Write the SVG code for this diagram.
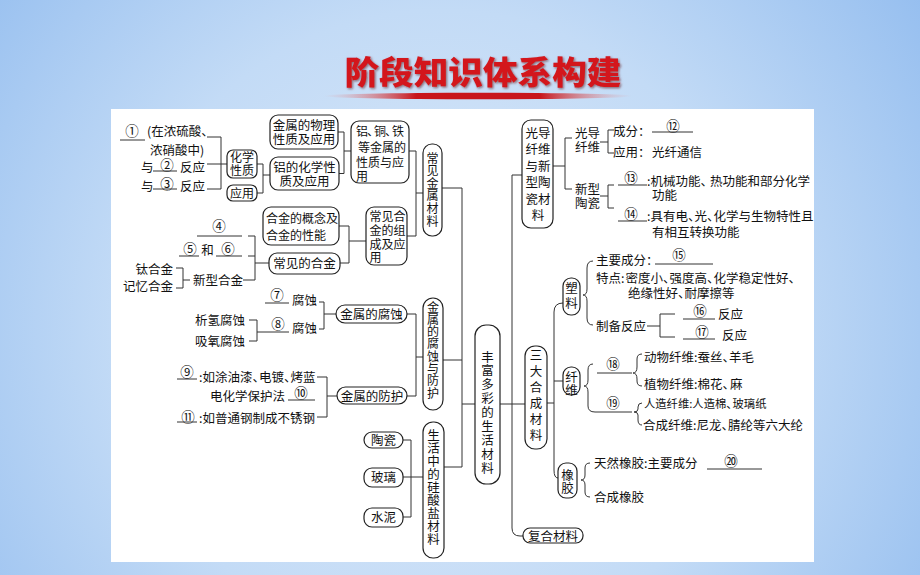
<svg xmlns="http://www.w3.org/2000/svg" width="920" height="575" viewBox="0 0 920 575">
<defs>
<radialGradient id="bg" gradientUnits="userSpaceOnUse" cx="440" cy="330" r="640">
<stop offset="0" stop-color="#dce9f9"/>
<stop offset="0.5" stop-color="#c3dbf6"/>
<stop offset="1" stop-color="#8db9ee"/>
</radialGradient>
<linearGradient id="sw" x1="0" y1="0" x2="1" y2="0">
<stop offset="0" stop-color="#e8a0a0" stop-opacity="0"/>
<stop offset="0.3" stop-color="#c8161c"/>
<stop offset="0.7" stop-color="#c8161c"/>
<stop offset="1" stop-color="#e8a0a0" stop-opacity="0"/>
</linearGradient>
<filter id="sh" x="-5%" y="-20%" width="110%" height="140%">
<feDropShadow dx="1.2" dy="1.2" stdDeviation="0.8" flood-color="#5a0a0a" flood-opacity="0.6"/>
</filter>
</defs>
<style>
.box{fill:#fff;stroke:#222;stroke-width:1.2}
.ln{fill:none;stroke:#333;stroke-width:1}
.t{font-family:"Noto Sans CJK SC","Noto Sans CJK JP",sans-serif;font-size:12.5px;fill:#111}
.s{font-size:12px}
.m{text-anchor:middle}
.e{text-anchor:end}
.n{font-family:"Noto Sans CJK SC","Noto Sans CJK JP",sans-serif;font-size:13.5px;fill:#111;text-anchor:middle}
.title{font-family:"Noto Sans CJK SC","Noto Sans CJK JP",sans-serif;font-size:32px;font-weight:900;fill:#d3161c;text-anchor:middle}
</style>
<rect width="920" height="575" fill="url(#bg)"/>
<g id="title">
<ellipse cx="478" cy="96" rx="155" ry="3.2" fill="url(#sw)"/>
<text class="title" x="483" y="84" textLength="277" lengthAdjust="spacingAndGlyphs" filter="url(#sh)">阶段知识体系构建</text>
</g>
<rect x="111" y="109" width="703" height="453" fill="#fff"/>

<g id="connectors">
<path class="ln" d="M207,137H221V189H207M207,164H228"/>
<path class="ln" d="M257,164H263V193H257M263,175H270"/>
<path class="ln" d="M338,132H344V173.5H339M344,151H351"/>
<path class="ln" d="M409,151H416V236H407M416,193H423"/>
<path class="ln" d="M339,226H349V263H340M349,241H366"/>
<path class="ln" d="M248,236H255V280H243M248,256H255M255,263H269"/>
<path class="ln" d="M176,268H183V288H176M183,280H190"/>
<path class="ln" d="M319,302H324V329H319M324,314H336"/>
<path class="ln" d="M249,320H257V341H249M257,332H265"/>
<path class="ln" d="M317,377H327V417H317M327,396H337"/>
<path class="ln" d="M407,314H416V396H407M416,357H423"/>
<path class="ln" d="M403,440H411V517H403M403,477H423"/>
<path class="ln" d="M442,188H462V467H444M443,360H462M462,404H475"/>
<path class="ln" d="M500,404H525M522,175H512V528Q512,536 520,536H523"/>
<path class="ln" d="M553,166H565M572,138H565V189H572"/>
<path class="ln" d="M600,142H608M614,130H608V153H614"/>
<path class="ln" d="M600,196H608M614,185H608V208H614"/>
<path class="ln" d="M547,403H554M563,303Q554,303 554,312V470Q554,478 558,478M554,381H563"/>
<path class="ln" d="M593,261Q587,261 587,268V289Q587,295 583,295Q587,295 587,301V318Q587,325 593,325"/>
<path class="ln" d="M647,326H660M675,314H660V337H675"/>
<path class="ln" d="M593,364Q588,364 588,370V380Q588,386 584,386Q588,386 588,392V406Q588,412 595,412"/>
<path class="ln" d="M642,354Q637,354 637,359V367Q637,373 633,373Q637,373 637,379V381Q637,386 642,386"/>
<path class="ln" d="M642,403Q638,403 638,407V409Q638,412 634,412Q638,412 638,415V420Q638,425 642,425"/>
<path class="ln" d="M590,463Q585,463 585,468V475Q585,480 581,480Q585,480 585,485V492Q585,497 590,497"/>
<path class="ln" d="M120,140H145M153,171H177M153,189H177M197,236H242M179,256H199M216,256H242"/>
<path class="ln" d="M265,303H289M265,332H289M177,379H197M288,400H315M177,422H197"/>
<path class="ln" d="M652,132H693M618,185H647M618,221H647M655,264H713M683,319H715M683,339H715M597,373H632M595,412H632M707,469H762"/>
</g>

<g id="n-left1">
<text class="n" x="132" y="135.5">①</text>
<text class="t" x="147" y="135.5">(在浓硫酸、</text>
<text class="t" x="150" y="154.5">浓硝酸中)</text>
<text class="t" x="141" y="171.5">与</text>
<text class="n" x="167" y="169.5">②</text>
<text class="t" x="180" y="171.5">反应</text>
<text class="t" x="141" y="190.5">与</text>
<text class="n" x="167" y="188.5">③</text>
<text class="t" x="180" y="190.5">反应</text>
</g>
<g id="n-huaxuexingzhi"><rect class="box" x="227" y="150" width="30" height="28" rx="6"/>
<text class="t s m" x="242" y="161.5">化学</text><text class="t s m" x="242" y="175">性质</text></g>
<g id="n-yingyong"><rect class="box" x="227" y="185" width="30" height="16" rx="6"/>
<text class="t s m" x="242" y="197.5">应用</text></g>
<g id="n-wuli"><rect class="box" x="270" y="115" width="68" height="34" rx="8"/>
<text class="t m" x="304" y="129.5">金属的物理</text><text class="t m" x="304" y="144">性质及应用</text></g>
<g id="n-lvhuaxue"><rect class="box" x="270" y="157" width="69" height="33" rx="8"/>
<text class="t m" x="304.5" y="171.5">铝的化学性</text><text class="t m" x="304.5" y="185.5">质及应用</text></g>
<g id="n-lvtongtie"><rect class="box" x="351" y="121" width="58" height="62" rx="8"/>
<text class="t s" x="356" y="135.5">铝<tspan dx="-1">、</tspan><tspan dx="-5">铜</tspan><tspan dx="-1">、</tspan><tspan dx="-5">铁</tspan></text>
<text class="t s" x="358" y="151.5">等金属的</text>
<text class="t s" x="356" y="166.5">性质与应</text>
<text class="t s" x="356" y="180.5">用</text></g>
<g id="n-changjianjinshu"><rect class="box" x="423" y="144" width="19" height="92" rx="9"/>
<text class="t s m" x="432.5"><tspan x="432.5" y="162.5">常</tspan><tspan x="432.5" y="175.1">见</tspan><tspan x="432.5" y="187.7">金</tspan><tspan x="432.5" y="200.3">属</tspan><tspan x="432.5" y="212.9">材</tspan><tspan x="432.5" y="225.5">料</tspan></text></g>
<g id="n-hejingainian"><rect class="box" x="263" y="207" width="76" height="38" rx="8"/>
<text class="t s" x="266" y="222.5">合金的概念及</text><text class="t s" x="266" y="239.5">合金的性能</text></g>
<g id="n-changjiandehejin"><rect class="box" x="269" y="253" width="71" height="21" rx="8"/>
<text class="t m" x="304.5" y="267.5">常见的合金</text></g>
<g id="n-hejinzucheng"><rect class="box" x="366" y="207" width="41" height="58" rx="8"/>
<text class="t s" x="369.5" y="220.5">常见合</text><text class="t s" x="369.5" y="235">金的组</text><text class="t s" x="369.5" y="249">成及应</text><text class="t s" x="369.5" y="262">用</text></g>
<g id="n-left2">
<text class="n" x="219" y="230.5">④</text>
<text class="n" x="190" y="253.5">⑤</text>
<text class="t m" x="207.5" y="254.5">和</text>
<text class="n" x="228" y="253.5">⑥</text>
<text class="t" x="193" y="284.5">新型合金</text>
<text class="t e" x="173" y="273.5">钛合金</text>
<text class="t e" x="173" y="290.5">记忆合金</text>
</g>
<g id="n-corrosion">
<text class="n" x="277" y="299.5">⑦</text>
<text class="t" x="292" y="304.5">腐蚀</text>
<text class="n" x="278" y="328.5">⑧</text>
<text class="t" x="292" y="332.5">腐蚀</text>
<text class="t e" x="245" y="324.5">析氢腐蚀</text>
<text class="t e" x="245" y="345.5">吸氧腐蚀</text>
</g>
<g id="n-fushi"><rect class="box" x="336" y="305" width="71" height="18" rx="9"/>
<text class="t m" x="371.5" y="318.5">金属的腐蚀</text></g>
<g id="n-protect-items">
<text class="n" x="187" y="376.5">⑨</text>
<text class="t" x="199" y="381.5">:如涂油漆、<tspan dx="-6">电镀、</tspan><tspan dx="-6">烤蓝</tspan></text>
<text class="t" x="210" y="400.5">电化学保护法</text>
<text class="n" x="301" y="397.5">⑩</text>
<text class="n" x="188" y="421.5">⑪</text>
<text class="t" x="199" y="422.5">:如普通钢制成不锈钢</text>
</g>
<g id="n-fanghu"><rect class="box" x="337" y="387" width="70" height="17" rx="8.5"/>
<text class="t m" x="372" y="400.5">金属的防护</text></g>
<g id="n-fushiyufanghu"><rect class="box" x="423" y="298" width="20" height="112" rx="10"/>
<text class="t s m" x="433"><tspan x="433" y="311.5">金</tspan><tspan x="433" y="323.8">属</tspan><tspan x="433" y="336.1">的</tspan><tspan x="433" y="348.4">腐</tspan><tspan x="433" y="360.7">蚀</tspan><tspan x="433" y="373">与</tspan><tspan x="433" y="385.3">防</tspan><tspan x="433" y="397.6">护</tspan></text></g>
<g id="n-taoci"><rect class="box" x="364" y="432" width="39" height="16" rx="8"/><text class="t m" x="383.5" y="445">陶瓷</text></g>
<g id="n-boli"><rect class="box" x="364" y="468" width="39" height="19" rx="8"/><text class="t m" x="383.5" y="481.5">玻璃</text></g>
<g id="n-shuini"><rect class="box" x="364" y="508" width="39" height="19" rx="8"/><text class="t m" x="383.5" y="522">水泥</text></g>
<g id="n-guisuanyan"><rect class="box" x="423" y="422" width="21" height="136" rx="10"/>
<text class="t m" x="433.5"><tspan x="433.5" y="439.5">生</tspan><tspan x="433.5" y="452.6">活</tspan><tspan x="433.5" y="465.7">中</tspan><tspan x="433.5" y="478.8">的</tspan><tspan x="433.5" y="491.9">硅</tspan><tspan x="433.5" y="505">酸</tspan><tspan x="433.5" y="518.1">盐</tspan><tspan x="433.5" y="531.2">材</tspan><tspan x="433.5" y="544.3">料</tspan></text></g>
<g id="n-root"><rect class="box" x="475" y="325" width="25" height="159" rx="11"/>
<text class="t m" x="487.5"><tspan x="487.5" y="361.5">丰</tspan><tspan x="487.5" y="375.4">富</tspan><tspan x="487.5" y="389.3">多</tspan><tspan x="487.5" y="403.2">彩</tspan><tspan x="487.5" y="417.1">的</tspan><tspan x="487.5" y="431">生</tspan><tspan x="487.5" y="444.9">活</tspan><tspan x="487.5" y="458.8">材</tspan><tspan x="487.5" y="472.7">料</tspan></text></g>
<g id="n-guangdao"><rect class="box" x="522" y="120" width="31" height="108" rx="9"/>
<text class="t m" x="538"><tspan x="538" y="137.5">光导</tspan><tspan x="538" y="154">纤维</tspan><tspan x="538" y="170.5">与新</tspan><tspan x="538" y="187">型陶</tspan><tspan x="538" y="203.5">瓷材</tspan><tspan x="538" y="220">料</tspan></text></g>
<g id="n-fiber-items">
<text class="t" x="575" y="137.5">光导</text><text class="t" x="575" y="151.5">纤维</text>
<text class="t" x="613" y="135.5">成分：</text>
<text class="n" x="673" y="130.5">⑫</text>
<text class="t" x="613" y="156.5">应用：</text><text class="t" x="652" y="156.5">光纤通信</text>
</g>
<g id="n-ceramic-items">
<text class="t" x="575" y="193.5">新型</text><text class="t" x="575" y="207.5">陶瓷</text>
<text class="n" x="631" y="182.5">⑬</text>
<text class="t" x="647" y="185.5">:机械功能、<tspan dx="-3">热功能和部分化学</tspan></text>
<text class="t" x="652" y="199.5">功能</text>
<text class="n" x="631" y="218.5">⑭</text>
<text class="t" x="647" y="220.5">:具有电、<tspan dx="-6">光、</tspan><tspan dx="-6">化学与生物特性且</tspan></text>
<text class="t" x="652" y="236.5">有相互转换功能</text>
</g>
<g id="n-sanda"><rect class="box" x="525" y="346" width="22" height="103" rx="10"/>
<text class="t m" x="536"><tspan x="536" y="359.5">三</tspan><tspan x="536" y="375.5">大</tspan><tspan x="536" y="391.5">合</tspan><tspan x="536" y="407.5">成</tspan><tspan x="536" y="423.5">材</tspan><tspan x="536" y="439.5">料</tspan></text></g>
<g id="n-suliao"><rect class="box" x="563" y="278" width="17" height="37" rx="8"/>
<text class="t m" x="571.5"><tspan x="571.5" y="292.5">塑</tspan><tspan x="571.5" y="307.5">料</tspan></text></g>
<g id="n-plastic-items">
<text class="t" x="596" y="264.5">主要成分：</text>
<text class="n" x="679" y="259.5">⑮</text>
<text class="t" x="596" y="282.5">特点:<tspan dx="1">密度小、</tspan><tspan dx="-6">强度高、</tspan><tspan dx="-6">化学稳定性好、</tspan></text>
<text class="t" x="628" y="297.5">绝缘性好、<tspan dx="-6">耐摩擦等</tspan></text>
<text class="t" x="596" y="330.5">制备反应</text>
<text class="n" x="700" y="315.5">⑯</text>
<text class="t" x="718" y="318.5">反应</text>
<text class="n" x="702" y="336.5">⑰</text>
<text class="t" x="722" y="339.5">反应</text>
</g>
<g id="n-xianwei"><rect class="box" x="563" y="367" width="17" height="28" rx="8"/>
<text class="t m" x="571.5"><tspan x="571.5" y="381.5">纤</tspan><tspan x="571.5" y="394.5">维</tspan></text></g>
<g id="n-fiber2-items">
<text class="n" x="613" y="368.5">⑱</text>
<text class="t" x="644" y="361.5">动物纤维:蚕丝、<tspan dx="-6">羊毛</tspan></text>
<text class="t" x="644" y="388.5">植物纤维:棉花、<tspan dx="-5">麻</tspan></text>
<text class="n" x="613" y="407.5">⑲</text>
<text class="t" x="644" y="407.5" style="font-size:11.3px">人造纤维:人造棉、<tspan dx="-5">玻璃纸</tspan></text>
<text class="t" x="643" y="429.5">合成纤维:尼龙、<tspan dx="-6">腈纶等六大纶</tspan></text>
</g>
<g id="n-xiangjiao"><rect class="box" x="558" y="463" width="19" height="35" rx="8"/>
<text class="t m" x="567.5"><tspan x="567.5" y="479.5">橡</tspan><tspan x="567.5" y="492.5">胶</tspan></text></g>
<g id="n-rubber-items">
<text class="t" x="594" y="467.5">天然橡胶:主要成分</text>
<text class="n" x="731" y="465.5">⑳</text>
<text class="t" x="594" y="501.5">合成橡胶</text>
</g>
<g id="n-fuhe"><rect class="box" x="523" y="528" width="60" height="15" rx="7"/>
<text class="t m" x="553" y="540.5">复合材料</text></g>
</svg>
